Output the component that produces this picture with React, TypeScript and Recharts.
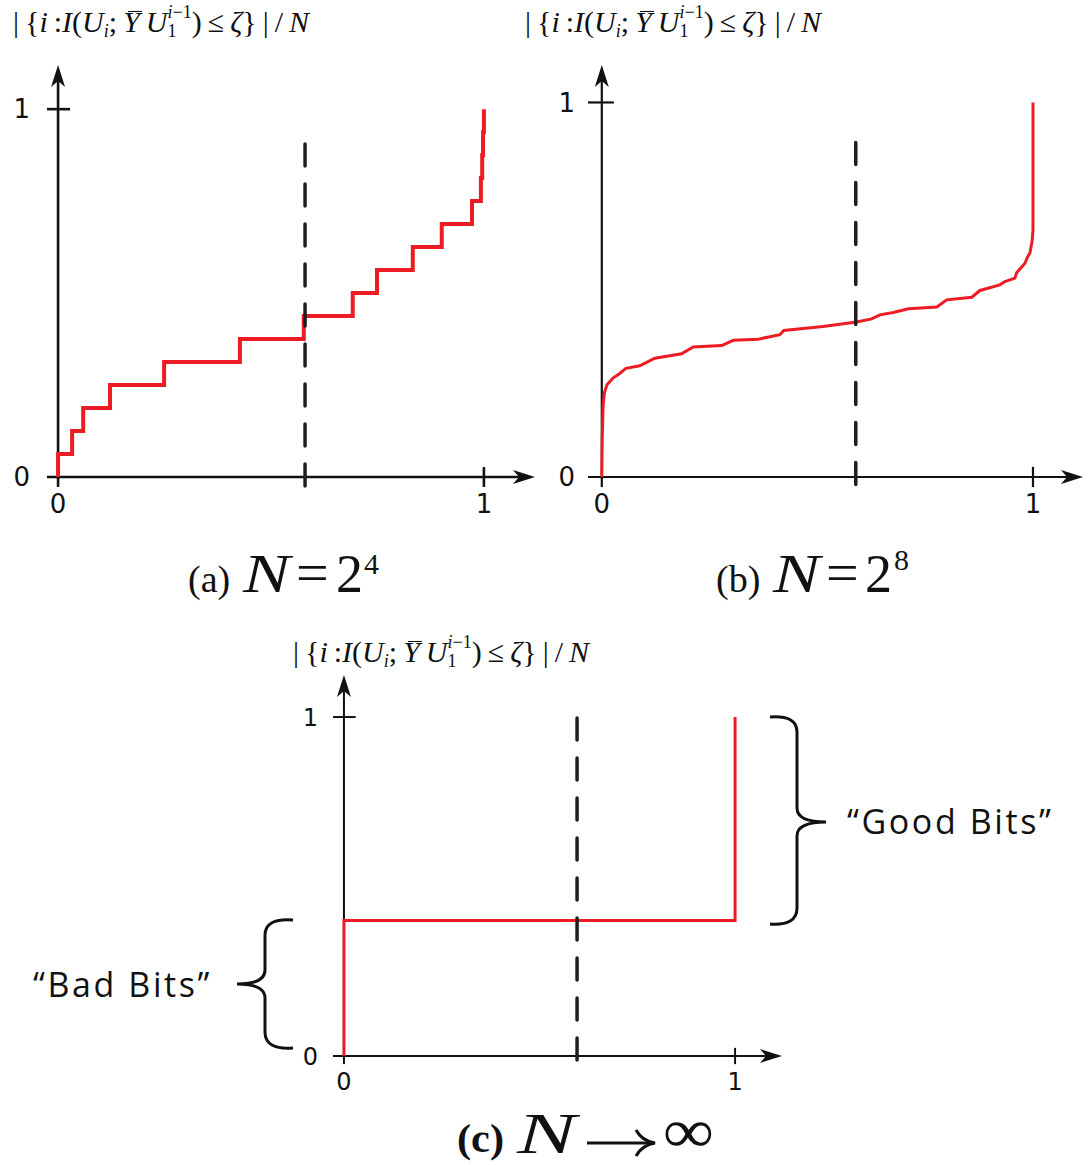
import type { CSSProperties } from 'react';
import { LineChart, Line, XAxis, YAxis, ReferenceLine, ReferenceDot } from 'recharts';

const RED = '#ed1c24';
const INK = '#111111';
const DASH = '#1e1e1e';

// (a) N = 2^4 : where each of the 16 jumps happens, and the level after it
const aJumps = [0, 0, 0.033, 0.059, 0.122, 0.249, 0.427, 0.577, 0.692, 0.749, 0.833, 0.901, 0.972, 0.993, 0.996, 0.998, 1.0];
const aLevels = [0, 0.0625, 0.125, 0.1875, 0.25, 0.3125, 0.375, 0.4375, 0.5, 0.5625, 0.625, 0.6875, 0.75, 0.8125, 0.875, 0.9375, 1.0];

// (b) N = 2^8
const bX = [0, 0.001, 0.003, 0.006, 0.012, 0.026, 0.04, 0.056, 0.088, 0.123, 0.185, 0.212, 0.278, 0.305, 0.363, 0.413, 0.422, 0.513, 0.591, 0.626, 0.645, 0.676, 0.711, 0.777, 0.8, 0.858, 0.877, 0.923, 0.935, 0.958, 0.962, 0.981, 0.988, 0.993, 0.998, 1.0, 1.0];
const bY = [0, 0.1, 0.19, 0.225, 0.246, 0.264, 0.275, 0.29, 0.297, 0.317, 0.329, 0.347, 0.351, 0.365, 0.368, 0.38, 0.391, 0.402, 0.414, 0.422, 0.433, 0.439, 0.449, 0.454, 0.473, 0.48, 0.498, 0.513, 0.522, 0.531, 0.545, 0.57, 0.589, 0.598, 0.63, 0.66, 1.0];

// (c) N -> infinity
const cX = [0, 0, 1, 1];
const cY = [0, 0.4, 0.4, 1];

const tickValues = [0, 1];

const toRows = (xs: number[], ys: number[]) => xs.map((x, i) => ({ x, y: ys[i] }));

const arrowRight = (p: any) => (
  <path d={`M${p.cx},${p.cy} L${p.cx - 22},${p.cy - 7} L${p.cx - 16},${p.cy} L${p.cx - 22},${p.cy + 7} Z`} fill={INK} />
);
const arrowUp = (p: any) => (
  <path d={`M${p.cx},${p.cy} L${p.cx - 7},${p.cy + 22} L${p.cx},${p.cy + 16} L${p.cx + 7},${p.cy + 22} Z`} fill={INK} />
);

type PanelProps = {
  left: number;
  top: number;
  width: number;
  height: number;
  margin: { top: number; right: number; bottom: number; left: number };
  xDomain: [number, number];
  yDomain: [number, number];
  rows: { x: number; y: number }[];
  curve: 'stepAfter' | 'linear';
  redWidth: number;
  axisWidth: number;
  dashX: number;
  dashTop: number;
  dashBottom: number;
  fontSize: number;
  xGap: number;
  yGap: number;
  tickX: number; // half length of the x=1 tick, in y units
  tickY: number; // right end of the y=1 tick, in x units
  xLineEnd: number;
  yLineEnd: number;
};

const Panel = (p: PanelProps) => {
  const font = { fontSize: p.fontSize, fontFamily: 'DejaVu Sans, sans-serif', fill: INK };
  return (
    <div style={{ position: 'absolute', left: p.left, top: p.top }}>
      <LineChart width={p.width} height={p.height} data={p.rows} margin={p.margin}>
        <XAxis
          dataKey="x"
          type="number"
          domain={p.xDomain}
          allowDataOverflow
          ticks={tickValues}
          axisLine={false}
          tickLine={false}
          tickSize={0}
          tickMargin={p.xGap}
          height={40}
          tick={font}
        />
        <YAxis
          type="number"
          domain={p.yDomain}
          allowDataOverflow
          ticks={tickValues}
          axisLine={false}
          tickLine={false}
          tickSize={0}
          tickMargin={p.yGap}
          width={40}
          tick={font}
        />
        {/* axes with arrowheads */}
        <ReferenceLine segment={[{ x: p.xDomain[0], y: 0 }, { x: p.xLineEnd, y: 0 }]} stroke={INK} strokeWidth={p.axisWidth} ifOverflow="visible" />
        <ReferenceLine segment={[{ x: 0, y: -0.004 }, { x: 0, y: p.yLineEnd }]} stroke={INK} strokeWidth={p.axisWidth} ifOverflow="visible" />
        <ReferenceDot x={p.xDomain[1]} y={0} ifOverflow="visible" shape={arrowRight} />
        <ReferenceDot x={0} y={p.yDomain[1]} ifOverflow="visible" shape={arrowUp} />
        <ReferenceLine segment={[{ x: p.xDomain[0], y: 1 }, { x: p.tickY, y: 1 }]} stroke={INK} strokeWidth={p.axisWidth} ifOverflow="visible" />
        <ReferenceLine segment={[{ x: 1, y: p.tickX }, { x: 1, y: -p.tickX }]} stroke={INK} strokeWidth={p.axisWidth} ifOverflow="visible" />
        <ReferenceLine segment={[{ x: 0, y: 0 }, { x: 0, y: -p.tickX }]} stroke={INK} strokeWidth={p.axisWidth} ifOverflow="visible" />
        <Line
          dataKey="y"
          type={p.curve}
          stroke={RED}
          strokeWidth={p.redWidth}
          dot={false}
          activeDot={false}
          isAnimationActive={false}
        />
        <ReferenceLine
          segment={[{ x: p.dashX, y: p.dashTop }, { x: p.dashX, y: p.dashBottom }]}
          stroke={DASH}
          strokeWidth={3.5}
          strokeDasharray="22 18"
          strokeLinecap="round"
          ifOverflow="visible"
        />
      </LineChart>
    </div>
  );
};

const it: CSSProperties = { fontStyle: 'italic' };
const sub: CSSProperties = { position: 'relative', top: 5, fontSize: 18 };
const sup: CSSProperties = { position: 'relative', top: -14, fontSize: 18 };

// |{i : I(U_i ; Ybar U_1^{i-1}) <= zeta}| / N
const AxisTitle = ({ left, baseline }: { left: number; baseline: number }) => (
  <div
    style={{
      position: 'absolute',
      left,
      top: baseline - 25,
      fontFamily: 'Liberation Serif, serif',
      fontSize: 30,
      lineHeight: '30px',
      whiteSpace: 'nowrap',
      color: INK,
    }}
  >
    |&thinsp;{'{'}<span style={it}>i</span>&thinsp;:<span style={it}>I</span>(<span style={it}>U</span>
    <span style={{ ...sub, ...it }}>i</span>;&thinsp;
    <span style={{ position: 'relative' }}>
      <span style={it}>Y</span>
      <span style={{ position: 'absolute', left: 5, right: -2, top: 6, borderTop: '1.5px solid ' + INK }} />
    </span>
    &thinsp;<span style={it}>U</span>
    <span style={sub}>1</span>
    <span style={{ ...sup, marginLeft: -9 }}>
      <span style={it}>i</span>−1
    </span>
    )&thinsp;≤&thinsp;<span style={it}>ζ</span>{'}'}&thinsp;|&thinsp;/&thinsp;<span style={it}>N</span>
  </div>
);

const serif = 'Liberation Serif, serif';
const sans = 'Open Sans, sans-serif';

export default function App() {
  return (
    <div style={{ position: 'absolute', left: 0, top: 0, width: 1089, height: 1165, background: '#fff' }}>
      <Panel
        left={0}
        top={0}
        width={560}
        height={530}
        margin={{ top: 65, right: 25, bottom: 13, left: 7 }}
        xDomain={[-0.026, 1.12]}
        yDomain={[0, 1.12]}
        rows={toRows(aJumps, aLevels)}
        curve="stepAfter"
        redWidth={4}
        axisWidth={2.6}
        dashX={0.58}
        dashTop={0.905}
        dashBottom={-0.03}
        fontSize={26}
        xGap={18}
        yGap={17}
        tickX={0.027}
        tickY={0.028}
        xLineEnd={1.09}
        yLineEnd={1.08}
      />
      <Panel
        left={540}
        top={0}
        width={549}
        height={530}
        margin={{ top: 65, right: 6, bottom: 13, left: 8 }}
        xDomain={[-0.032, 1.116]}
        yDomain={[0, 1.1]}
        rows={toRows(bX, bY)}
        curve="linear"
        redWidth={3}
        axisWidth={2.2}
        dashX={0.589}
        dashTop={0.893}
        dashBottom={-0.03}
        fontSize={26}
        xGap={18}
        yGap={13}
        tickX={0.027}
        tickY={0.028}
        xLineEnd={1.09}
        yLineEnd={1.06}
      />
      <Panel
        left={280}
        top={620}
        width={520}
        height={480}
        margin={{ top: 55, right: 18, bottom: 4, left: 13 }}
        xDomain={[-0.028, 1.12]}
        yDomain={[0, 1.124]}
        rows={toRows(cX, cY)}
        curve="linear"
        redWidth={3}
        axisWidth={2}
        dashX={0.596}
        dashTop={0.997}
        dashBottom={-0.02}
        fontSize={24}
        xGap={17}
        yGap={15}
        tickX={0.024}
        tickY={0.03}
        xLineEnd={1.09}
        yLineEnd={1.08}
      />

      <AxisTitle left={13} baseline={32} />
      <AxisTitle left={525} baseline={32} />
      <AxisTitle left={293} baseline={662} />

      <svg width={1089} height={1165} style={{ position: 'absolute', left: 0, top: 0, pointerEvents: 'none' }}>
        <g fill={INK}>
          <text x={188} y={592} fontSize={38} fontFamily={serif}>(a)</text>
          <text x={243} y={592} fontSize={54} fontFamily={serif} fontStyle="italic" textLength={47} lengthAdjust="spacingAndGlyphs">N</text>
          <text x={296} y={592} fontSize={58} fontFamily={serif}>=</text>
          <text x={336} y={592} fontSize={54} fontFamily={serif}>2</text>
          <text x={364} y={574} fontSize={30} fontFamily={serif}>4</text>

          <text x={716} y={592} fontSize={38} fontFamily={serif}>(b)</text>
          <text x={773} y={592} fontSize={54} fontFamily={serif} fontStyle="italic" textLength={47} lengthAdjust="spacingAndGlyphs">N</text>
          <text x={826} y={592} fontSize={58} fontFamily={serif}>=</text>
          <text x={865} y={592} fontSize={54} fontFamily={serif}>2</text>
          <text x={894} y={570} fontSize={30} fontFamily={serif}>8</text>

          <text x={457} y={1152} fontSize={40} fontFamily={serif} fontWeight={700} textLength={47} lengthAdjust="spacingAndGlyphs">(c)</text>
          <text x={517} y={1153} fontSize={58} fontFamily={serif} fontStyle="italic" textLength={59} lengthAdjust="spacingAndGlyphs">N</text>
          <text x={663} y={1152} fontSize={62} fontFamily={serif} textLength={51} lengthAdjust="spacingAndGlyphs">∞</text>
        </g>
        <line x1={587} y1={1143} x2={651} y2={1143} stroke={INK} strokeWidth={3.2} />
        <path d="M636,1130 Q642,1141 655,1143 Q642,1145 636,1156" fill="none" stroke={INK} strokeWidth={3.2} />

        {/* braces marking the two groups of bits */}
        <path
          d="M770,717 Q797,715 797,732 L797,808 Q797,822 826,822 Q797,822 797,836 L797,908 Q797,926 770,924"
          fill="none"
          stroke={INK}
          strokeWidth={3}
        />
        <path
          d="M293,920 Q265,918 265,935 L265,970 Q265,984 237,984 Q265,984 265,998 L265,1032 Q265,1050 293,1048"
          fill="none"
          stroke={INK}
          strokeWidth={3}
        />
        <g fontFamily={sans} fill={INK} fontSize={34}>
          <text x={847} y={834} letterSpacing={2.6}>“Good Bits”</text>
          <text x={33} y={997} letterSpacing={2.6}>“Bad Bits”</text>
        </g>
      </svg>
    </div>
  );
}
